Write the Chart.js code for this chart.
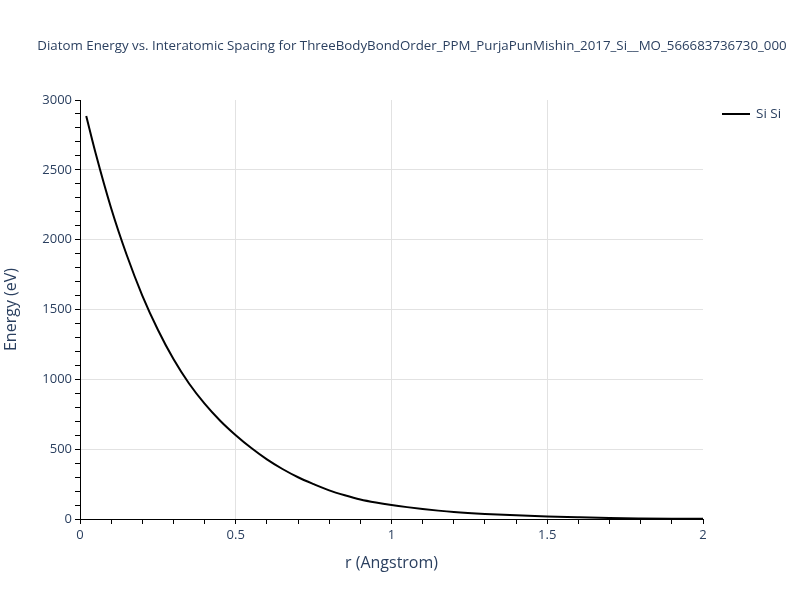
<!DOCTYPE html>
<html>
<head>
<meta charset="utf-8">
<script src="https://cdn.jsdelivr.net/npm/chart.js@4.4.0/dist/chart.umd.min.js"></script>
<style>
  html, body { margin: 0; padding: 0; background: #fff; }
  #wrap { width: 800px; height: 600px; }
</style>
</head>
<body>
<div id="wrap"><canvas id="dChart_diatom" width="800" height="600"></canvas></div>
<script>
// values
const chartTitle = 'Diatom Energy vs. Interatomic Spacing for ThreeBodyBondOrder_PPM_PurjaPunMishin_2017_Si__MO_566683736730_000';
const seriesLabel = 'Si Si';
const rVals = [0.02, 0.05, 0.1, 0.15, 0.2, 0.25, 0.3, 0.35, 0.4, 0.45, 0.5, 0.55, 0.6, 0.65, 0.7, 0.75, 0.8, 0.85, 0.9, 0.95, 1.0, 1.05, 1.1, 1.15, 1.2, 1.3, 1.4, 1.5, 1.6, 1.7, 1.8, 1.9, 2.0];
const energyVals = [2885, 2620, 2225, 1890, 1600, 1355, 1145, 970, 826, 704, 600, 508, 427, 358, 299, 250, 205, 170, 140, 118, 100, 85, 72, 60, 50, 36, 26, 18, 12, 7, 4, 2, 1];
const xTickLabels = [0, 0.5, 1, 1.5, 2];
const yTickLabels = [0, 500, 1000, 1500, 2000, 2500, 3000];

const textColor = '#2a3f5f';
const gridColor = '#e2e2e2';
const fontFam = '"Open Sans", "DejaVu Sans", sans-serif';

const isMajorX = v => xTickLabels.some(t => Math.abs(t - v) < 1e-6);
const isMajorY = v => yTickLabels.some(t => Math.abs(t - v) < 1e-6);

// title + legend drawn by hand (plotly style)
const plotlyBits = {
    id: 'plotlyBits',
    afterDraw(chart) {
        const c = chart.ctx;
        c.save();
        c.fillStyle = textColor;
        c.font = '13.3px ' + fontFam;
        c.textAlign = 'center';
        c.textBaseline = 'middle';
        c.fillText(chartTitle, 412, 46);
        // legend
        const ds = chart.data.datasets[0];
        c.strokeStyle = ds.borderColor;
        c.lineWidth = 2;
        c.beginPath();
        c.moveTo(722, 114);
        c.lineTo(750, 114);
        c.stroke();
        c.textAlign = 'left';
        c.font = '13.5px ' + fontFam;
        c.fillText(ds.label, 756, 114);
        c.restore();
    }
};

var ctx = document.getElementById('dChart_diatom');
var dChart = new Chart(ctx, {
    type: 'line',
    data: {
        datasets: [
            {
                label: seriesLabel,
                data: rVals.map((r, i) => ({ x: r, y: energyVals[i] })),
                borderColor: '#000000',
                borderWidth: 2,
                pointRadius: 0,
                fill: false,
                cubicInterpolationMode: 'monotone'
            }
        ]
    },
    options: {
        responsive: false,
        animation: false,
        layout: { padding: { top: 100, right: 97, left: 0, bottom: 0 } },
        plugins: {
            legend: { display: false },
            title: { display: false },
            tooltip: { enabled: false }
        },
        scales: {
            x: {
                type: 'linear',
                min: 0,
                max: 2,
                afterFit: s => { s.height = 81; },
                border: { color: '#000', width: 1 },
                grid: {
                    color: c => (c.tick && isMajorX(c.tick.value) && c.tick.value > 0 && c.tick.value < 2) ? gridColor : 'rgba(0,0,0,0)',
                    tickColor: '#000',
                    tickLength: 5,
                    drawTicks: true
                },
                ticks: {
                    stepSize: 0.1,
                    autoSkip: false,
                    maxRotation: 0,
                    color: textColor,
                    font: { family: fontFam, size: 13 },
                    padding: 3,
                    callback: v => isMajorX(v) ? String(Math.round(v * 10) / 10) : ''
                },
                title: {
                    display: true,
                    text: 'r (Angstrom)',
                    color: textColor,
                    font: { family: fontFam, size: 16 },
                    padding: { top: 0, bottom: 27 }
                }
            },
            y: {
                type: 'linear',
                min: 0,
                max: 3000,
                afterFit: s => { s.width = 80; },
                border: { color: '#000', width: 1 },
                grid: {
                    color: c => (c.tick && isMajorY(c.tick.value) && c.tick.value > 0 && c.tick.value < 3000) ? gridColor : 'rgba(0,0,0,0)',
                    tickColor: '#000',
                    tickLength: 5,
                    drawTicks: true
                },
                ticks: {
                    stepSize: 100,
                    autoSkip: false,
                    color: textColor,
                    font: { family: fontFam, size: 13 },
                    padding: 3,
                    callback: v => isMajorY(v) ? String(v) : ''
                },
                title: {
                    display: true,
                    text: 'Energy (eV)',
                    color: textColor,
                    font: { family: fontFam, size: 16 },
                    padding: { top: 2, bottom: 0 }
                }
            }
        }
    },
    plugins: [plotlyBits]
});
</script>
</body>
</html>
